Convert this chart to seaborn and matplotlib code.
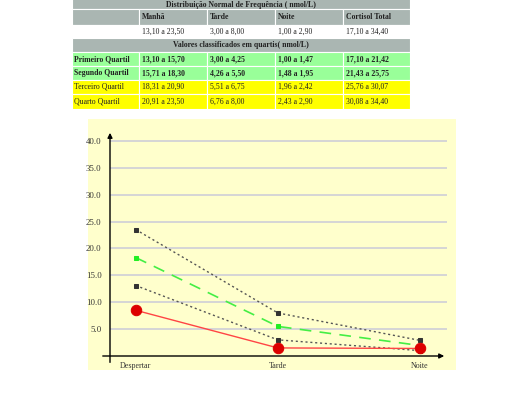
import matplotlib
matplotlib.use("Agg")
import matplotlib.pyplot as plt
import seaborn as sns
import pandas as pd
from matplotlib.patches import Rectangle

# table data
table_title = "Distribuição Normal de Frequência ( nmol/L)"
quart_title = "Valores classificados em quartis( nmol/L)"
table_cols = ["Manhã", "Tarde", "Noite", "Cortisol Total"]
normal_ranges = ["13,10 a 23,50", "3,00 a 8,00", "1,00 a 2,90", "17,10 a 34,40"]
quart_labels = ["Primeiro Quartil", "Segundo Quartil", "Terceiro Quartil", "Quarto Quartil"]
quart_ranges = [
    ["13,10 a 15,70", "3,00 a 4,25", "1,00 a 1,47", "17,10 a 21,42"],
    ["15,71 a 18,30", "4,26 a 5,50", "1,48 a 1,95", "21,43 a 25,75"],
    ["18,31 a 20,90", "5,51 a 6,75", "1,96 a 2,42", "25,76 a 30,07"],
    ["20,91 a 23,50", "6,76 a 8,00", "2,43 a 2,90", "30,08 a 34,40"],
]

# chart data
periods = ["Despertar", "Tarde", "Noite"]
q_low = [13.10, 3.00, 1.00]
q_mid = [18.30, 5.50, 1.95]
q_high = [23.50, 8.00, 2.90]
patient = [8.5, 1.5, 1.4]
y_ticks = [5, 10, 15, 20, 25, 30, 35, 40]

W, H = 526, 394
sns.set_theme(style="white")
plt.rcParams["font.family"] = ["Liberation Serif", "DejaVu Serif"]

fig = plt.figure(figsize=(W / 100, H / 100), dpi=100)
fig.patch.set_facecolor("white")

GRAY = "#aab6b2"
GREEN = "#99ff99"
YELLOW = "#ffff00"

# ---- table (pixel coordinates) ----
ax_t = fig.add_axes([72 / W, (H - 109) / H, (410 - 72) / W, 114 / H])
ax_t.set_xlim(72, 410)
ax_t.set_ylim(109, -5)
ax_t.axis("off")
col_x = [72, 139, 207, 275, 343, 410]
rows_y = [-5, 9, 25, 38, 52, 66, 80, 94, 109]
fs = 5.6


def cell(x0, x1, y0, y1, color):
    ax_t.add_patch(Rectangle((x0, y0), x1 - x0, y1 - y0, facecolor=color,
                             edgecolor="white", lw=0.8))


def cell_text(x, y, s, bold=False, ha="left"):
    ax_t.text(x, y, s, fontsize=fs, ha=ha, va="center", color="#222222",
              fontweight="bold" if bold else "normal")


cell(72, 410, rows_y[0], rows_y[1], GRAY)
cell_text(241, 4.6, table_title, bold=True, ha="center")
for i in range(5):
    cell(col_x[i], col_x[i + 1], rows_y[1], rows_y[2], GRAY)
    cell(col_x[i], col_x[i + 1], rows_y[2], rows_y[3], "white")
for i, name in enumerate(table_cols):
    cell_text(col_x[i + 1] + 3, 17, name, bold=True)
    cell_text(col_x[i + 1] + 3, 31.5, normal_ranges[i])
cell(72, 410, rows_y[3], rows_y[4], GRAY)
cell_text(241, 45, quart_title, bold=True, ha="center")
for r, lab in enumerate(quart_labels):
    y0, y1 = rows_y[4 + r], rows_y[5 + r]
    color = GREEN if r < 2 else YELLOW
    bold = r < 2
    for i in range(5):
        cell(col_x[i], col_x[i + 1], y0, y1, color)
    cell_text(col_x[0] + 2, (y0 + y1) / 2, lab, bold=bold)
    for i, v in enumerate(quart_ranges[r]):
        cell_text(col_x[i + 1] + 3, (y0 + y1) / 2, v, bold=bold)

# ---- chart panel ----
ax_bg = fig.add_axes([88 / W, (H - 370) / H, (456 - 88) / W, (370 - 119) / H])
ax_bg.set_facecolor("#ffffcc")
ax_bg.set_xticks([])
ax_bg.set_yticks([])
for s in ax_bg.spines.values():
    s.set_visible(False)

px_per_unit = 5.38
y_top = 42
ax = fig.add_axes([110 / W, (H - 356) / H, (447 - 110) / W, y_top * px_per_unit / H])
ax.set_facecolor("none")

df = pd.DataFrame({"periodo": periods, "low": q_low, "mid": q_mid,
                   "high": q_high, "paciente": patient})

for col in ["high", "low"]:
    sns.lineplot(data=df, x="periodo", y=col, ax=ax, color="#555555", lw=1,
                 linestyle=(0, (1.5, 2)), marker="s", markersize=3.5,
                 markerfacecolor="#333333", markeredgecolor="#333333", sort=False)
sns.lineplot(data=df, x="periodo", y="mid", ax=ax, color="#44ee44", lw=1.2,
             linestyle=(0, (7, 5)), marker="s", markersize=3.5,
             markerfacecolor="#22ee22", markeredgecolor="#22ee22", sort=False)
sns.lineplot(data=df, x="periodo", y="paciente", ax=ax, color="#ff4444", lw=1,
             marker="o", markersize=7.5, markerfacecolor="#dd0000",
             markeredgecolor="#dd0000", sort=False, zorder=5)

ax.set_xlim(-25.7 / 142, 2 + 27 / 142)
ax.set_ylim(0, y_top)
ax.set_yticks(y_ticks)
ax.set_yticklabels([f"{v:.1f}" for v in y_ticks])
ax.grid(False)
for v in y_ticks:
    ax.axhline(v, color="#d2d2d6", lw=1.3, zorder=0)
for s in ax.spines.values():
    s.set_visible(False)
ax.set_xlabel("")
ax.set_ylabel("")
ax.tick_params(axis="y", length=0, pad=6, labelsize=6.3, labelcolor="#333333")
ax.tick_params(axis="x", length=6, direction="inout", width=0.8, color="#333333",
               pad=1.5, labelsize=5.8, labelcolor="#333333")

# axis arrows
arrow = dict(arrowstyle="-|>", color="black", lw=1.0, mutation_scale=7)
ax.annotate("", xy=(-25.7 / 142, y_top), xytext=(-25.7 / 142, -1.7),
            arrowprops=arrow, annotation_clip=False)
ax.annotate("", xy=(2 + 27 / 142, 0), xytext=(-35.7 / 142, 0),
            arrowprops=arrow, annotation_clip=False)

fig.savefig("out.png", dpi=100)
